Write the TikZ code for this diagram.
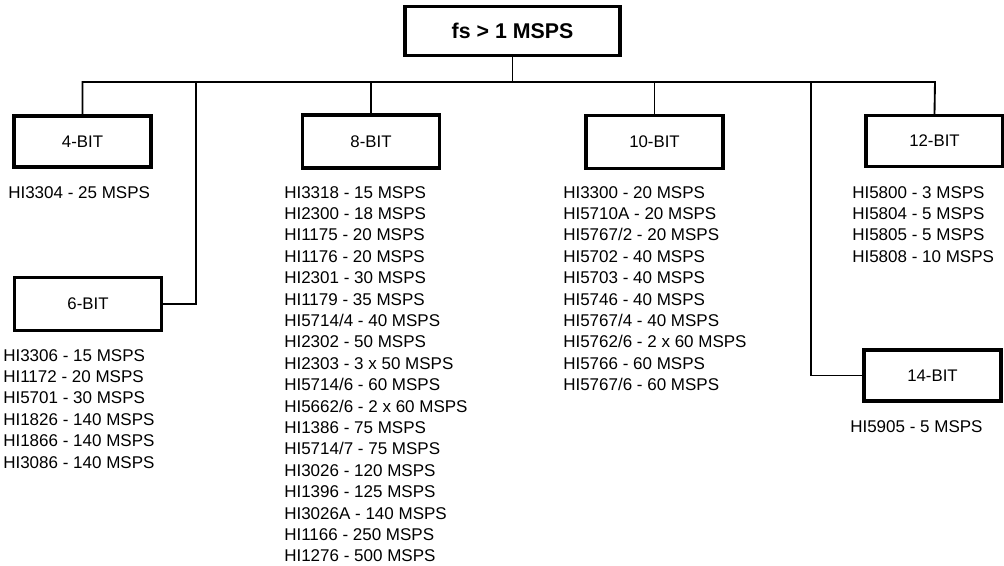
\documentclass[tikz,border=0pt]{standalone}
\usepackage{fontspec}
\setmainfont{Liberation Sans}
\begin{document}
\begin{tikzpicture}[x=0.75pt,y=-0.75pt,
  bitbox/.style={draw,line width=2.6pt,minimum width=102.5pt,minimum height=38.25pt,inner sep=0pt,font=\fontsize{12.6}{14}\selectfont},
  partlist/.style={anchor=north west,align=left,inner sep=0pt,font=\fontsize{12.75}{16.05}\selectfont},
  wire/.style={line width=1.4pt}]
  \useasboundingbox (0,0) rectangle (1004,566);
  \node[bitbox,minimum width=161.5pt,minimum height=36.5pt,font=\bfseries\fontsize{16}{18}\selectfont] (top) at (512.5,31) {fs > 1 MSPS};
  \node[bitbox] (b4) at (82.5,141.5) {4-BIT};
  \node[bitbox,minimum width=110pt,minimum height=39.5pt] (b6) at (88,304) {6-BIT};
  \node[bitbox,minimum height=39.5pt] (b8) at (371,141.5) {8-BIT};
  \node[bitbox,minimum height=39.5pt] (b10) at (654.5,142) {10-BIT};
  \node[bitbox] (b12) at (934.5,141) {12-BIT};
  \node[bitbox] (b14) at (932.5,375.5) {14-BIT};
  % bus and branches
  \coordinate (busR) at (935,82);
  \coordinate (j6) at (196,82);
  \coordinate (j14) at (811,82);
  \draw[wire] (top.south) -- (top.south |- busR);
  \draw[wire] (b4.north) |- (busR) -- (b12.north);
  \draw[wire] (b8.north) -- (b8.north |- busR);
  \draw[wire] (b10.north) -- (b10.north |- busR);
  \draw[wire] (b6.east) -| (j6);
  \draw[wire] (b14.west) -| (j14);
  % part lists
  \node[partlist] (l4) at (8,186) {HI3304 - 25 MSPS};
  \node[partlist] (l6) at (3,349) {HI3306 - 15 MSPS\\HI1172 - 20 MSPS\\HI5701 - 30 MSPS\\HI1826 - 140 MSPS\\HI1866 - 140 MSPS\\HI3086 - 140 MSPS};
  \node[partlist] (l8) at (284,186) {HI3318 - 15 MSPS\\HI2300 - 18 MSPS\\HI1175 - 20 MSPS\\HI1176 - 20 MSPS\\HI2301 - 30 MSPS\\HI1179 - 35 MSPS\\HI5714/4 - 40 MSPS\\HI2302 - 50 MSPS\\HI2303 - 3 x 50 MSPS\\HI5714/6 - 60 MSPS\\HI5662/6 - 2 x 60 MSPS\\HI1386 - 75 MSPS\\HI5714/7 - 75 MSPS\\HI3026 - 120 MSPS\\HI1396 - 125 MSPS\\HI3026A - 140 MSPS\\HI1166 - 250 MSPS\\HI1276 - 500 MSPS};
  \node[partlist] (l10) at (563,186) {HI3300 - 20 MSPS\\HI5710A - 20 MSPS\\HI5767/2 - 20 MSPS\\HI5702 - 40 MSPS\\HI5703 - 40 MSPS\\HI5746 - 40 MSPS\\HI5767/4 - 40 MSPS\\HI5762/6 - 2 x 60 MSPS\\HI5766 - 60 MSPS\\HI5767/6 - 60 MSPS};
  \node[partlist] (l12) at (852,186) {HI5800 - 3 MSPS\\HI5804 - 5 MSPS\\HI5805 - 5 MSPS\\HI5808 - 10 MSPS};
  \node[partlist] (l14) at (850,420) {HI5905 - 5 MSPS};
\end{tikzpicture}
\end{document}
